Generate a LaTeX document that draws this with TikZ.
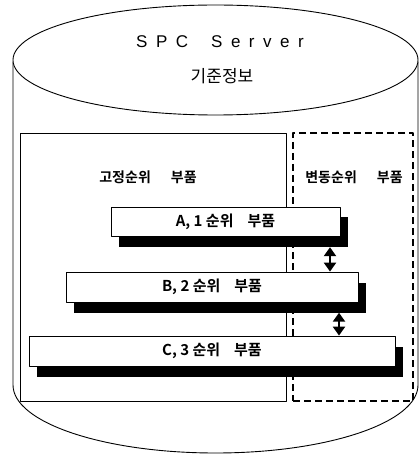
\documentclass[tikz,border=0pt]{standalone}
\usepackage{fontspec}
\setmainfont{Liberation Sans}
\newfontfamily\kr{Noto Sans CJK KR}[BoldFont={Noto Sans CJK KR Bold}]
\usetikzlibrary{arrows.meta,calc}
\begin{document}
\begin{tikzpicture}[x=1pt,y=-1pt, line join=round,
  outline/.style={line width=0.9pt},
  part/.style={draw, line width=0.8pt, fill=white, minimum height=30pt, inner sep=0pt, font=\kr\bfseries\fontsize{15}{17}\selectfont},
  shadowbox/.style={fill=black, draw=none, minimum height=30pt, inner sep=0pt},
  dbl/.style={line width=2.8pt, {Triangle[width=12pt,length=9pt]}-{Triangle[width=12pt,length=9pt]}},
  lbl/.style={font=\kr\bfseries\fontsize{14}{16}\selectfont, inner sep=0pt},
]
\useasboundingbox (0,0) rectangle (419,457);
% cylinder
\draw[outline] (13,62) -- (13,385) arc[start angle=180,end angle=0,x radius=202.5,y radius=68] -- (418,62);
\draw[outline, fill=white] (215.5,60) ellipse[x radius=202.5, y radius=55];
\node (title) at (220,42) {\fontsize{17}{19}\selectfont S\hspace{8.5pt}P\hspace{8.5pt}C\hspace{23pt}S\hspace{8.5pt}e\hspace{8.5pt}r\hspace{8.5pt}v\hspace{8.5pt}e\hspace{8.5pt}r};
\node (sub) at (222,76) {\kr\fontsize{17}{19}\selectfont 기준정보};
% regions
\node (fixed) [draw, line width=0.8pt, minimum width=266pt, minimum height=268pt, inner sep=0pt] at (153,267) {};
\node (var) [draw, dashed, dash pattern=on 7pt off 4pt, line width=1.2pt, minimum width=120pt, minimum height=268pt, inner sep=0pt] at (353,267) {};
\node[lbl] (fixedlbl) at (148,177) {고정순위\hspace{20pt}부품};
\node[lbl] (varlbl) at (354,177) {변동순위\hspace{20pt}부품};
% parts
\node[shadowbox, minimum width=229pt] (As) at (233.5,232) {};
\node[part, minimum width=229pt, minimum height=29pt] (A) at (225.5,221.5) {A, 1 순위\hspace{14pt}부품};
\node[shadowbox, minimum width=292pt] (Bs) at (220,297.5) {};
\node[part, minimum width=292pt] (B) at (212,287) {B, 2 순위\hspace{14pt}부품};
\node[shadowbox, minimum width=366pt] (Cs) at (220,361.5) {};
\node[part, minimum width=366pt] (C) at (212,351) {C, 3 순위\hspace{14pt}부품};
% arrows
\coordinate (ax1) at (330,0);
\coordinate (ax2) at (339,0);
\draw[dbl] (As.south -| ax1) -- (B.north -| ax1);
\draw[dbl] (Bs.south -| ax2) -- (C.north -| ax2);
\end{tikzpicture}
\end{document}
